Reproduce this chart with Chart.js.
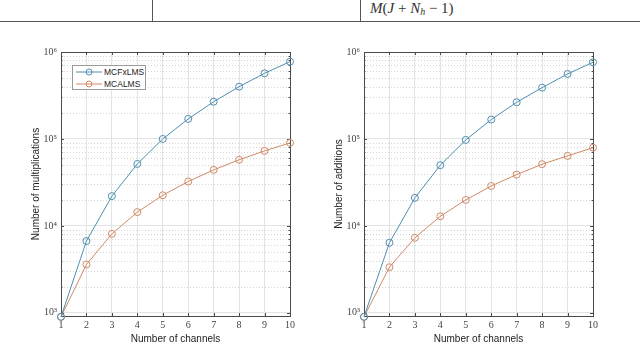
<!DOCTYPE html>
<html>
<head>
<meta charset="utf-8">
<script src="https://cdn.jsdelivr.net/npm/chart.js@4.4.1/dist/chart.umd.min.js"></script>
<style>
  html, body { margin: 0; padding: 0; background: #fff; }
  body { width: 640px; height: 346px; position: relative; overflow: hidden; font-family: "Liberation Sans", Arial, sans-serif; }
  .rule { position: absolute; background: #555; }
  .formula { position: absolute; left: 370px; top: 0px; font-family: "Liberation Serif", "DejaVu Serif", serif; font-size: 15px; font-weight: normal; color: #333; white-space: nowrap; }
  .formula sub { font-size: 10px; vertical-align: -2px; }
  canvas { position: absolute; top: 0; }
  .legend { position: absolute; left: 72px; top: 65px; width: 72px; height: 23px; border: 1px solid #9a9a9a; background: #fff; font-size: 8.5px; color: #222; }
  .legend div { position: absolute; left: 3px; height: 10px; line-height: 10px; white-space: nowrap; }
  .legend svg { vertical-align: top; }
</style>
</head>
<body>
<div class="rule" style="left:0;top:21px;width:640px;height:1px"></div>
<div class="rule" style="left:152px;top:0;width:1px;height:21px"></div>
<div class="rule" style="left:360px;top:0;width:1px;height:21px"></div>
<div class="formula"><i>M</i>(<i>J</i> + <i>N</i><sub><i>h</i></sub> − 1)</div>

<canvas id="multChart" width="290" height="346" style="left:30px"></canvas>
<canvas id="addChart" width="307" height="346" style="left:333px"></canvas>

<div class="legend" id="legend"></div>

<script>
const channels = [1, 2, 3, 4, 5, 6, 7, 8, 9, 10];
const seriesNames = ["MCFxLMS", "MCALMS"];
// multiplications
const multFxLMS = [900, 6700, 22000, 51600, 100000, 170000, 268000, 399000, 569000, 774000];
const multALMS = [900, 3600, 8100, 14400, 22500, 32400, 44100, 57600, 72900, 90000];
// additions
const addFxLMS = [900, 6400, 21000, 49900, 97500, 167000, 264000, 389000, 559000, 762000];
const addALMS = [900, 3350, 7300, 12900, 19900, 28800, 38900, 51200, 63800, 79400];

const yTickValues = [1e3, 1e4, 1e5, 1e6];
const yTickLabels = ["10³", "10⁴", "10⁵", "10⁶"];

const BLUE = "#4f8fb0";
const ORANGE = "#d08a66";

function toPoints(vals) {
  return channels.map((c, i) => ({ x: c, y: vals[i] }));
}

const matlabAxes = {
  id: "matlabAxes",
  beforeDatasetsDraw(chart) {
    const { ctx, chartArea: a, scales } = chart;
    const x = scales.x, y = scales.y;
    const line = (x1, y1, x2, y2) => { ctx.beginPath(); ctx.moveTo(x1, y1); ctx.lineTo(x2, y2); ctx.stroke(); };
    ctx.save();
    // dotted minor grid
    ctx.strokeStyle = "#d6d6d6";
    ctx.lineWidth = 1;
    ctx.setLineDash([1, 2]);
    y.ticks.forEach((t) => {
      if (yTickValues.includes(t.value)) return;
      const py = Math.round(y.getPixelForValue(t.value)) + 0.5;
      line(a.left, py, a.right, py);
    });
    ctx.setLineDash([]);
    // box + inward ticks
    ctx.strokeStyle = "#4a4a4a";
    ctx.strokeRect(Math.round(a.left) + 0.5, Math.round(a.top) + 0.5, Math.round(a.right - a.left), Math.round(a.bottom - a.top));
    x.ticks.forEach((t) => {
      const px = Math.round(x.getPixelForValue(t.value)) + 0.5;
      line(px, a.bottom, px, a.bottom - 3);
      line(px, a.top, px, a.top + 3);
    });
    y.ticks.forEach((t) => {
      const len = yTickValues.includes(t.value) ? 3 : 1.5;
      const py = Math.round(y.getPixelForValue(t.value)) + 0.5;
      line(a.left, py, a.left + len, py);
      line(a.right, py, a.right - len, py);
    });
    ctx.restore();
  },
};

function makeChart(id, fxVals, aVals, yTitle, padRight) {
  const ds = (label, vals, color) => ({
    label,
    data: toPoints(vals),
    borderColor: color,
    borderWidth: 1,
    pointRadius: 3.5,
    pointBorderWidth: 1,
    pointBackgroundColor: "rgba(0,0,0,0)",
    pointBorderColor: color,
    clip: false,
  });
  return new Chart(document.getElementById(id), {
    type: "line",
    data: { datasets: [ds(seriesNames[0], fxVals, BLUE), ds(seriesNames[1], aVals, ORANGE)] },
    options: {
      responsive: false,
      animation: false,
      layout: { padding: { top: 52, right: padRight, bottom: 0, left: 0 } },
      plugins: { legend: { display: false }, tooltip: { enabled: false } },
      scales: {
        x: {
          type: "linear",
          min: 1,
          max: 10,
          afterFit: (s) => { s.height = 30; },
          grid: { color: "#e3e3e3", drawTicks: false },
          border: { display: false },
          ticks: { stepSize: 1, padding: 3, color: "#444", font: { family: "Liberation Serif", size: 10 } },
          title: { display: true, text: "Number of channels", color: "#222", font: { family: "Liberation Sans", size: 10 }, padding: { top: 0, bottom: 1 } },
        },
        y: {
          type: "logarithmic",
          min: 920,
          max: 1e6,
          afterFit: (s) => { s.width = 31; },
          afterBuildTicks: (s) => {
            const ticks = [];
            for (let i = 0; i < yTickValues.length - 1; i++) {
              for (let k = 1; k <= 9; k++) ticks.push({ value: k * yTickValues[i] });
            }
            ticks.push({ value: yTickValues[yTickValues.length - 1] });
            s.ticks = ticks;
          },
          grid: {
            drawTicks: false,
            color: (c) => (c.tick && yTickValues.includes(c.tick.value) ? "#e3e3e3" : "rgba(0,0,0,0)"),
          },
          border: { display: false },
          ticks: {
            autoSkip: false,
            padding: 4,
            color: "#444",
            font: { family: "Liberation Serif", size: 10 },
            callback: (v) => {
              const i = yTickValues.indexOf(v);
              return i < 0 ? "" : yTickLabels[i];
            },
          },
          title: { display: true, text: yTitle, color: "#222", font: { family: "Liberation Sans", size: 10 }, padding: { top: 0, bottom: 0 } },
        },
      },
    },
    plugins: [matlabAxes],
  });
}

makeChart("multChart", multFxLMS, multALMS, "Number of multiplications", 30);
makeChart("addChart", addFxLMS, addALMS, "Number of additions", 47);

// legend on the left chart
const legendEl = document.getElementById("legend");
[BLUE, ORANGE].forEach((color, i) => {
  const row = document.createElement("div");
  row.style.top = (1 + i * 12) + "px";
  row.innerHTML =
    `<svg width="27" height="10"><line x1="0" y1="5" x2="26" y2="5" stroke="${color}" stroke-width="1"/>` +
    `<circle cx="13" cy="5" r="3" fill="none" stroke="${color}" stroke-width="1"/></svg>` +
    `<span style="margin-left:1px">${seriesNames[i]}</span>`;
  legendEl.appendChild(row);
});
</script>
</body>
</html>
